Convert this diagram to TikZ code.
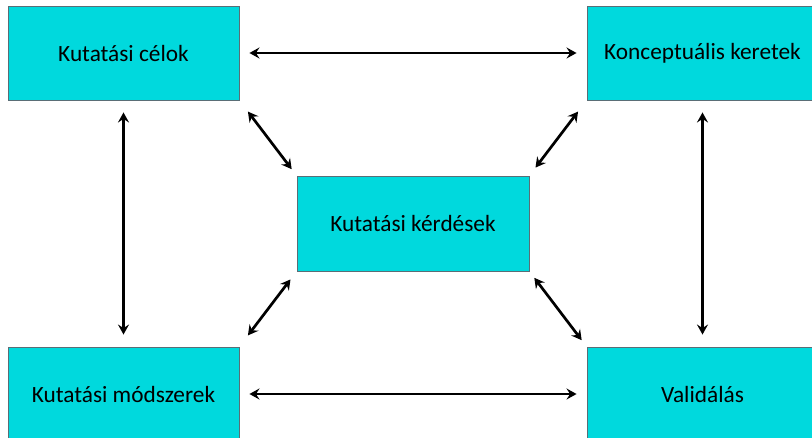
\documentclass[tikz,border=0pt]{standalone}
\usepackage{fontspec}
\setmainfont{Carlito}
\usetikzlibrary{arrows.meta}
\definecolor{boxfill}{RGB}{0,217,221}
\definecolor{boxline}{RGB}{90,110,118}
\tikzset{
  box/.style={draw=boxline, line width=0.9pt, fill=boxfill, rectangle,
    minimum width=231pt, minimum height=94pt, inner sep=0pt,
    font=\fontsize{23.3}{27}\selectfont},
  link/.style={line width=2.7pt, black,
    {Stealth[length=10pt,width=11pt,inset=3.5pt]}-{Stealth[length=10pt,width=11pt,inset=3.5pt]}}
}
\begin{document}
\begin{tikzpicture}[x=1pt,y=-1pt]
\useasboundingbox (0,0) rectangle (812,437);
\begin{scope}
\clip (0,0) rectangle (812,437);
\node[box] (tl) at (123.5,53) {Kutatási célok};
\node[box] (tr) at (702.5,53) {Konceptuális keretek};
\node[box, minimum width=232pt, minimum height=95pt] (c) at (413,223.5) {Kutatási kérdések};
\node[box] (bl) at (123.5,394) {Kutatási módszerek};
\node[box] (br) at (702.5,394) {Validálás};
\end{scope}
\draw[link, shorten <=10pt, shorten >=10pt] (tl.east) -- (tr.west);
\draw[link, shorten <=10pt, shorten >=10pt] (bl.east) -- (br.west);
\draw[link, shorten <=12pt, shorten >=12pt] (tl.south) -- (bl.north);
\draw[link, shorten <=12pt, shorten >=12pt] (tr.south) -- (br.north);
\draw[link, shorten <=14pt, shorten >=8pt] (tl.south east) -- (c.north west);
\draw[link, shorten <=14pt, shorten >=10pt] (tr.south west) -- (c.north east);
\draw[link, shorten <=10pt, shorten >=14pt] (c.south west) -- (bl.north east);
\draw[link, shorten <=8pt, shorten >=8pt] (c.south east) -- (br.north west);
\end{tikzpicture}
\end{document}
